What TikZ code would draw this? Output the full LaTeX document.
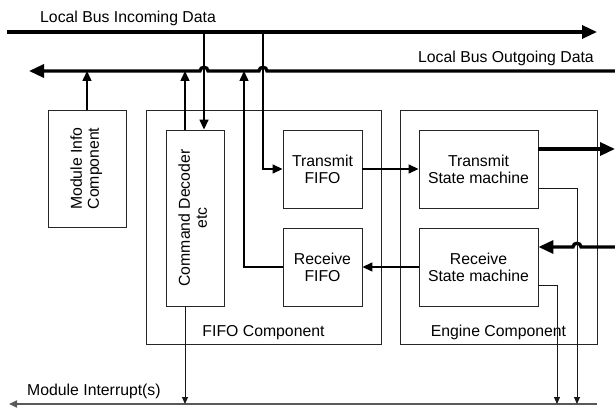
\documentclass[tikz,border=0pt]{standalone}
\usepackage{fontspec}
\setmainfont{Liberation Sans}
\usetikzlibrary{arrows.meta}
\begin{document}
\begin{tikzpicture}[x=1pt,y=-1pt,
  font=\fontsize{15.8}{17}\selectfont,
  box/.style={draw=black!85,line width=0.9pt,inner sep=0pt,align=center},
  lbl/.style={inner sep=0pt},
  busarr/.style={line width=3.3pt,-{Triangle[length=15pt,width=13pt]}},
  medarr/.style={line width=1.5pt,-{Triangle[length=10pt,width=9pt]}},
  thinarr/.style={line width=1pt,black!90,-{Triangle[length=7pt,width=6pt]}},
  intarr/.style={line width=1.6pt,black!65,-{Triangle[length=8pt,width=7pt]}}
]
\useasboundingbox (0,0) rectangle (615,411);

% component boxes
\node[box,minimum width=235,minimum height=234] (fifocomp) at (263.5,227) {};
\node[box,minimum width=197,minimum height=234] (engcomp) at (498.5,227) {};
\node[box,minimum width=78,minimum height=117] (modinfo) at (87,168.5)
  {\rotatebox{90}{\begin{tabular}{@{}c@{}}Module Info\\Component\end{tabular}}};
\node[box,minimum width=58,minimum height=176] (cmd) at (195,218)
  {\rotatebox{90}{\begin{tabular}{@{}c@{}}Command Decoder\\etc\end{tabular}}};
\node[box,minimum width=79,minimum height=78] (txfifo) at (322.5,169) {Transmit\\FIFO};
\node[box,minimum width=79,minimum height=78] (rxfifo) at (322.5,267) {Receive\\FIFO};
\node[box,minimum width=119,minimum height=78] (tsm) at (478.5,169) {Transmit\\State machine};
\node[box,minimum width=119,minimum height=78] (rsm) at (478.5,267) {Receive\\State machine};

% labels
\node[lbl,anchor=base west] (linc) at (40,23) {Local Bus Incoming Data};
\node[lbl,anchor=base east] (lout) at (594,63) {Local Bus Outgoing Data};
\node[lbl,anchor=base west] (lint) at (27,395) {Module Interrupt(s)};
\node[lbl,anchor=base] (lfifo) at (263.5,336) {FIFO Component};
\node[lbl,anchor=base] (leng) at (498.5,336) {Engine Component};

% bus coordinates
\coordinate (inL) at (7,32);
\coordinate (inR) at (597,32);
\coordinate (outR) at (615,71);
\coordinate (outL) at (29,71);
\coordinate (tap1) at (204,32);
\coordinate (tap2) at (263,32);
\coordinate (o1) at (185,71);
\coordinate (o2) at (244,71);
\coordinate (o0) at (87,71);
\coordinate (intR) at (597,404);
\coordinate (intL) at (9,404);
\coordinate (i0) at (185,404);
\coordinate (i1) at (557,404);
\coordinate (i2) at (577,404);
\coordinate (txout) at (615,149);
\coordinate (rxin) at (615,247);

% incoming bus
\draw[busarr] (inL) -- (inR);
% taps from incoming bus
\draw[medarr] (tap1) -- (tap1 |- cmd.north);
\draw[medarr] (tap2) |- (txfifo.west);

% outgoing bus with hops
\draw[busarr] (outR) -- (267,71) .. controls (267,66) and (259,66) .. (259,71)
  -- (208,71) .. controls (208,66) and (200,66) .. (200,71) -- (outL);

% into outgoing bus
\draw[medarr] (modinfo.north) -- (o0);
\draw[medarr] (o1 |- cmd.north) -- (o1);
\draw[medarr] (rxfifo.west) -| (o2);

% fifo <-> state machines
\draw[medarr] (txfifo.east) -- (tsm.west);
\draw[medarr] (rsm.west) -- (rxfifo.east);

% engine external
\draw[busarr] (tsm.east |- txout) -- (txout);
\draw[busarr] (rxin) -- (581,247) .. controls (581,242) and (573,242) .. (573,247) -- (rsm.east |- rxin);

% interrupts
\draw[intarr] (intR) -- (intL);
\draw[thinarr] (o1 |- cmd.south) -- (i0);
\draw[thinarr] (tsm.east |- 0,189) -| (i2);
\draw[thinarr] (rsm.east |- 0,286) -| (i1);
\end{tikzpicture}
\end{document}
